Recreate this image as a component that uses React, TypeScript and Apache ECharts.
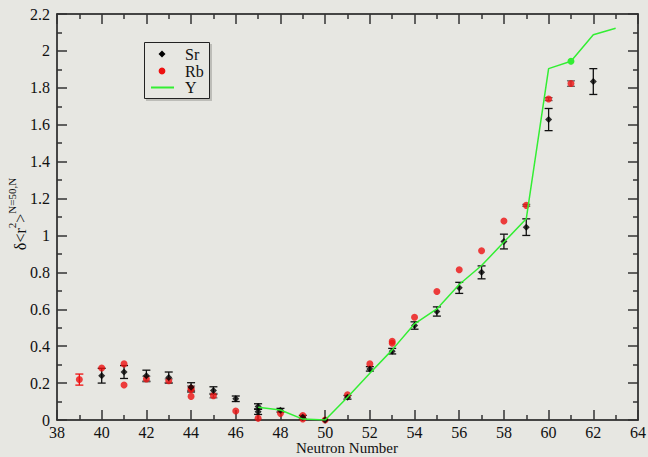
import React, { useEffect, useRef } from "react";
import * as echarts from "echarts";

const srN = [40, 41, 42, 43, 44, 45, 46, 47, 47, 48, 49, 50, 51, 52, 53, 54, 55, 56, 57, 58, 59, 60, 62];
const srV = [0.24, 0.26, 0.24, 0.23, 0.177, 0.16, 0.115, 0.073, 0.045, 0.053, 0.015, 0, 0.123, 0.277, 0.373, 0.512, 0.588, 0.716, 0.8, 0.967, 1.045, 1.628, 1.834];
const srE = [0.04, 0.035, 0.03, 0.03, 0.025, 0.02, 0.015, 0.015, 0.015, 0.01, 0.01, 0, 0.01, 0.012, 0.015, 0.02, 0.025, 0.03, 0.035, 0.04, 0.045, 0.06, 0.07];

const rbN = [39, 40, 41, 41, 42, 43, 44, 44, 44, 45, 46, 47, 48, 49, 49, 50, 51, 52, 53, 53, 54, 55, 56, 57, 58, 59, 60, 61];
const rbV = [0.219, 0.282, 0.304, 0.19, 0.222, 0.213, 0.172, 0.165, 0.128, 0.132, 0.049, 0.009, 0.036, 0.024, 0.006, 0, 0.136, 0.304, 0.427, 0.416, 0.557, 0.696, 0.814, 0.917, 1.078, 1.163, 1.739, 1.823];
const rbE = [0.03, 0, 0, 0, 0.015, 0.01, 0.012, 0, 0, 0.012, 0, 0, 0, 0, 0, 0, 0, 0, 0, 0, 0, 0, 0, 0, 0, 0.005, 0.008, 0.015];

const yN = [47, 48, 49, 50, 51, 52, 53, 54, 55, 56, 57, 58, 59, 60, 61, 62, 63];
const yV = [0.069, 0.054, 0.005, 0, 0.123, 0.253, 0.38, 0.521, 0.602, 0.734, 0.837, 0.964, 1.09, 1.904, 1.944, 2.088, 2.123];
const yMarkedN = [61];

const seriesNames = ["Sr", "Rb", "Y"];
const xTitle = "Neutron Number";

const FONT = "'Liberation Serif', 'Times New Roman', serif";
const BG = "#e7e7e2";
const RED = "#ee1111";
const GREEN = "#33ee33";

function errRender(colorFn: (e: number) => string) {
  return (params: any, api: any) => {
    const x = api.value(0);
    const y = api.value(1);
    const e = api.value(2);
    if (!e) return { type: "group", children: [] };
    const top = api.coord([x, y + e]);
    const bot = api.coord([x, y - e]);
    const c = colorFn(e);
    const hw = 4;
    const st = { stroke: c, lineWidth: 1.3 };
    return {
      type: "group",
      children: [
        { type: "line", shape: { x1: top[0], y1: top[1], x2: bot[0], y2: bot[1] }, style: st },
        { type: "line", shape: { x1: top[0] - hw, y1: top[1], x2: top[0] + hw, y2: top[1] }, style: st },
        { type: "line", shape: { x1: bot[0] - hw, y1: bot[1], x2: bot[0] + hw, y2: bot[1] }, style: st },
      ],
    };
  };
}

export default function App() {
  const ref = useRef<HTMLDivElement>(null);
  useEffect(() => {
    if (!ref.current) return;
    const chart = echarts.init(ref.current, undefined, { renderer: "svg", width: 648, height: 457 });
    const axisCommon = {
      type: "value",
      axisLine: { show: true, onZero: false, lineStyle: { color: "#111", width: 1.5 } },
      axisTick: { show: true, inside: true, length: 10, lineStyle: { color: "#333", width: 1.5 } },
      minorTick: { show: true, splitNumber: 2, length: 5, lineStyle: { color: "#333", width: 1.5 } },
      splitLine: { show: false },
      minorSplitLine: { show: false },
    };
    const xBase = { ...axisCommon, min: 38, max: 64, interval: 2 };
    const yBase = { ...axisCommon, min: 0, max: 2.2, interval: 0.2 };
    const legendItems = [
      { y: 54, marker: { type: "polygon", shape: { points: [[162, 50.5], [165.5, 54], [162, 57.5], [158.5, 54]] }, style: { fill: "#000" } } },
      { y: 71, marker: { type: "circle", shape: { cx: 162, cy: 71, r: 3.4 }, style: { fill: RED } } },
      { y: 87.5, marker: { type: "line", shape: { x1: 151, y1: 87.5, x2: 174, y2: 87.5 }, style: { stroke: GREEN, lineWidth: 2 } } },
    ];
    chart.setOption({
      animation: false,
      backgroundColor: BG,
      grid: { left: 57, right: 10, top: 14, bottom: 37, containLabel: false, outerBoundsMode: "none" },
      xAxis: [
        {
          ...xBase,
          position: "bottom",
          axisLabel: { show: true, fontFamily: FONT, fontSize: 16, lineHeight: 14, color: "#111", margin: 5 },
        },
        { ...xBase, position: "top", axisLabel: { show: false } },
      ],
      yAxis: [
        {
          ...yBase,
          position: "left",
          axisLabel: { show: true, fontFamily: FONT, fontSize: 16, color: "#111", margin: 7 },
        },
        { ...yBase, position: "right", axisLabel: { show: false } },
      ],
      graphic: [
        {
          type: "text",
          x: 347,
          y: 448,
          style: {
            text: xTitle,
            fontFamily: FONT,
            fontSize: 15,
            lineHeight: 12,
            fill: "#111",
            align: "center",
            verticalAlign: "middle",
          },
        },
        {
          type: "text",
          x: 17,
          y: 214,
          rotation: Math.PI / 2,
          style: {
            text: "{m|δ<r}{s|2}{m|>}{s|N=50,N}",
            align: "center",
            verticalAlign: "middle",
            fill: "#111",
            rich: {
              m: { fontFamily: FONT, fontSize: 16, fill: "#111", lineHeight: 22, verticalAlign: "bottom" },
              s: { fontFamily: FONT, fontSize: 11, fill: "#111", lineHeight: 22, verticalAlign: "top" },
            },
          },
        },
        {
          type: "group",
          z: 100,
          children: [
            {
              type: "rect",
              shape: { x: 146, y: 44, width: 66, height: 57 },
              style: { fill: "#bdbdb8" },
            },
            {
              type: "rect",
              shape: { x: 144.5, y: 42.5, width: 65, height: 56 },
              style: { fill: BG, stroke: "#222", lineWidth: 1 },
            },
            ...legendItems.map((it) => it.marker),
            ...legendItems.map((it, i) => ({
              type: "text",
              x: 185,
              y: it.y,
              style: {
                text: seriesNames[i],
                fontFamily: FONT,
                fontSize: 16,
                lineHeight: 15,
                fill: "#111",
                verticalAlign: "middle",
                align: "left",
              },
            })),
          ],
        },
      ],
      series: [
        {
          type: "custom",
          name: "SrErr",
          renderItem: errRender(() => "#111"),
          data: srN.map((n, i) => [n, srV[i], srE[i]]),
          z: 2,
          silent: true,
        },
        {
          type: "custom",
          name: "RbErr",
          renderItem: errRender((e) => (e >= 0.025 ? RED : "#666")),
          data: rbN.map((n, i) => [n, rbV[i], rbE[i]]),
          z: 2,
          silent: true,
        },
        {
          type: "scatter",
          name: seriesNames[1],
          symbol: "circle",
          symbolSize: 7,
          itemStyle: { color: RED },
          data: rbN.map((n, i) => [n, rbV[i]]),
          z: 3,
        },
        {
          type: "scatter",
          name: seriesNames[0],
          symbol: "diamond",
          symbolSize: 7,
          itemStyle: { color: "#000" },
          data: srN.map((n, i) => [n, srV[i]]),
          z: 4,
        },
        {
          type: "line",
          name: seriesNames[2],
          symbol: "none",
          showSymbol: true,
          lineStyle: { color: GREEN, width: 1.5 },
          itemStyle: { color: GREEN },
          data: yN.map((n, i) =>
            yMarkedN.includes(n)
              ? { value: [n, yV[i]], symbol: "circle", symbolSize: 7 }
              : { value: [n, yV[i]] }
          ),
          z: 5,
        },
      ],
    });
    return () => chart.dispose();
  }, []);
  return (
    <div
      ref={ref}
      style={{ position: "fixed", left: 0, top: 0, width: 648, height: 457, overflow: "hidden" }}
    />
  );
}
